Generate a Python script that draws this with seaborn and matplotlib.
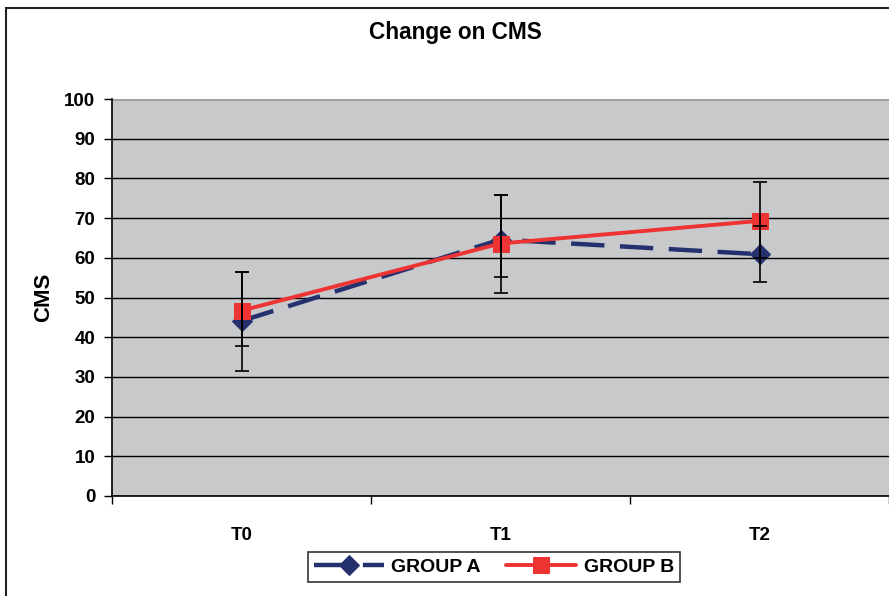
import matplotlib
matplotlib.use("Agg")
import matplotlib.pyplot as plt
import seaborn as sns
import pandas as pd
import numpy as np
from matplotlib.patches import Rectangle
from matplotlib.ticker import FixedLocator, NullFormatter

categories = ["T0", "T1", "T2"]
group_a = [44.1, 64.6, 60.9]
group_b = [46.7, 63.6, 69.3]
a_err_lo = [12.6, 13.4, 7.1]
a_err_hi = [12.4, 11.2, 7.1]
b_err_lo = [8.9, 8.4, 9.4]
b_err_hi = [9.8, 12.2, 9.9]
y_ticks = [0, 10, 20, 30, 40, 50, 60, 70, 80, 90, 100]

sns.set_theme(style="white")
plt.rcParams["font.family"] = ["Liberation Sans", "DejaVu Sans"]
plt.rcParams["font.weight"] = "bold"
for k in ["text.color", "axes.labelcolor", "xtick.color", "ytick.color"]:
    plt.rcParams[k] = "black"

df = pd.DataFrame({
    "time": categories * 2,
    "CMS": group_a + group_b,
    "group": ["GROUP A"] * 3 + ["GROUP B"] * 3,
})

fig = plt.figure(figsize=(8.89, 5.96), dpi=100)
ax = fig.add_axes([112 / 889, 1 - 496 / 596, 1 - 112 / 889, 397 / 596])
ax.set_facecolor("#C8C9CB")

navy = "#25306E"
red = "#EE3333"

x = np.arange(len(categories))
ax.errorbar(x, group_a, yerr=[a_err_lo, a_err_hi], fmt="none", ecolor="black",
            elinewidth=1.2, capsize=5, capthick=1.2, zorder=5)
ax.errorbar(x, group_b, yerr=[b_err_lo, b_err_hi], fmt="none", ecolor="black",
            elinewidth=1.2, capsize=5, capthick=1.2, zorder=5)

sns.lineplot(data=df[df.group == "GROUP A"], x="time", y="CMS", ax=ax,
             color=navy, linewidth=3.2, marker="D", markersize=10,
             markeredgecolor=navy, label="GROUP A", zorder=3)
sns.lineplot(data=df[df.group == "GROUP B"], x="time", y="CMS", ax=ax,
             color=red, linewidth=2.8, marker="s", markersize=11,
             markeredgecolor=red, label="GROUP B", zorder=4)
for ln in ax.get_lines():
    if ln.get_color() == navy:
        ln.set_dashes([7.5, 3.5])

ax.set_xlim(-0.5, 2.5)
ax.set_ylim(0, 100)
ax.set_yticks(y_ticks)
ax.yaxis.grid(True, color="black", linewidth=1.0)
ax.set_axisbelow(True)

ax.xaxis.set_major_locator(FixedLocator([-0.5, 0.5, 1.5, 2.5]))
ax.xaxis.set_major_formatter(NullFormatter())
ax.xaxis.set_minor_locator(FixedLocator([0, 1, 2]))
ax.set_xticklabels(categories, minor=True)
ax.tick_params(axis="x", which="major", direction="out", length=6, width=1, color="black", bottom=True)
ax.tick_params(axis="x", which="minor", length=0, labelsize=13.5, pad=22, bottom=True)
ax.tick_params(axis="y", which="major", direction="out", length=6, width=1, color="black", labelsize=13.5, left=True, pad=6)
for lbl in ax.get_xticklabels(minor=True) + ax.get_yticklabels():
    lbl.set_fontweight("bold")

ax.set_xlabel("")
ax.set_ylabel("CMS", fontsize=16, fontweight="bold", labelpad=7)

for side in ["top", "right"]:
    ax.spines[side].set_visible(False)
ax.spines["left"].set_color("black")
ax.spines["bottom"].set_color("black")
ax.spines["left"].set_linewidth(1.2)
ax.spines["bottom"].set_linewidth(1.2)
ax.axhline(100, color="#A0A2A2", linewidth=2, zorder=1)

fig.text(455 / 889, 1 - 32 / 596, "Change on CMS", ha="center", va="center",
         fontsize=16.3, fontweight="bold")

fig.patches.append(Rectangle((6 / 889, -0.1), 1.2, (1 - 8 / 596) + 0.1,
                             transform=fig.transFigure, fill=False,
                             edgecolor="#222222", linewidth=1.5))

handles, labels = ax.get_legend_handles_labels()
leg = ax.legend(handles, labels, loc="center", bbox_to_anchor=(494 / 889, 1 - 567 / 596),
                bbox_transform=fig.transFigure, ncol=2, frameon=True, fancybox=False,
                edgecolor="black", prop={"weight": "bold", "size": 14},
                handlelength=3.6, columnspacing=1.3, borderpad=0.3, handletextpad=0.4)
leg.get_frame().set_linewidth(1.2)

fig.savefig("out.png", dpi=100)
